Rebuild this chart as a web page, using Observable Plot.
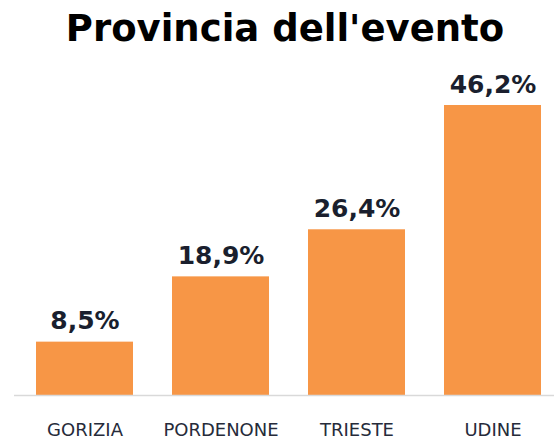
<!DOCTYPE html>
<html>
<head>
<meta charset="utf-8">
<script src="https://cdn.jsdelivr.net/npm/d3@7"></script>
<script src="https://cdn.jsdelivr.net/npm/@observablehq/plot@0.6"></script>
<style>
  html, body { margin: 0; padding: 0; background: #fff; }
  #title { width: 538px; padding-left: 16px; height: 60px; line-height: 58px; text-align: center;
    font-family: "DejaVu Sans", sans-serif; font-weight: bold; font-size: 37px; color: #000; }
  svg { display: block; }
</style>
</head>
<body>
<div id="title">Provincia dell'evento</div>
<div id="chart"></div>
<script>
const provinces = ["GORIZIA", "PORDENONE", "TRIESTE", "UDINE"];
const shares = [8.5, 18.9, 26.4, 46.2];

const data = provinces.map((p, i) => ({province: p, share: shares[i]}));
const fmt = v => v.toFixed(1).replace(".", ",") + "%";

const chart = Plot.plot({
  width: 554,
  height: 381,
  marginTop: 45,
  marginBottom: 46,
  marginLeft: 14,
  marginRight: 0,
  style: {fontFamily: "DejaVu Sans, sans-serif", background: "#fff"},
  x: {domain: provinces, paddingInner: 0.285, paddingOuter: 0.125, align: 0.62, label: null},
  y: {domain: [0, 46.2], axis: null},
  marks: [
    Plot.barY(data, {x: "province", y: "share", fill: "#F79646"}),
    Plot.ruleY([0], {stroke: "#d9d9d9", strokeWidth: 1.5}),
    Plot.text(data, {x: "province", y: "share", text: d => fmt(d.share), lineAnchor: "bottom", dy: -13,
      fontSize: 25, fontWeight: "bold", fill: "#1a1f2e"}),
    Plot.axisX({tickSize: 0, tickPadding: 28, fontSize: 18, color: "#262b3a", label: null})
  ]
});
document.getElementById("chart").appendChild(chart);
</script>
</body>
</html>
